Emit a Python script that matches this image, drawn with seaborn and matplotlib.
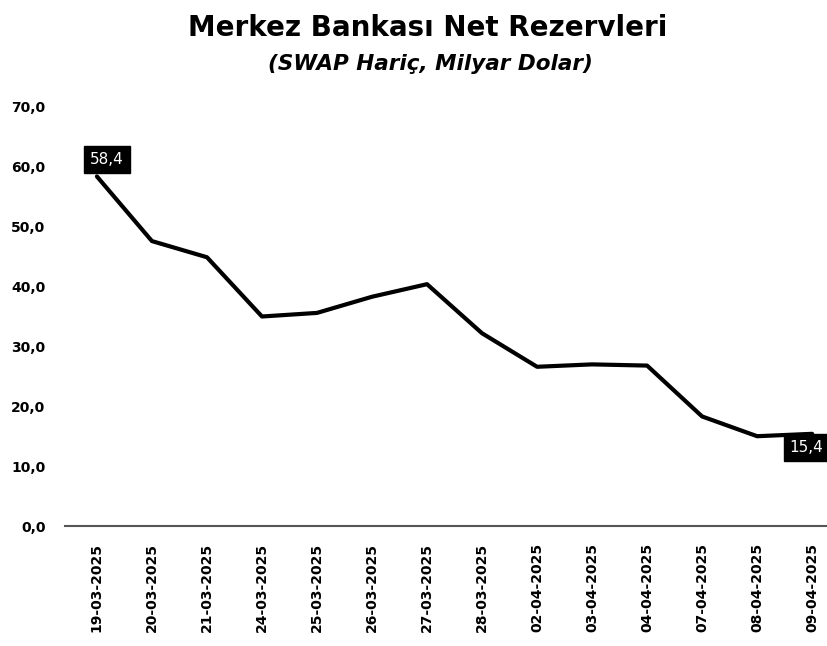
import pandas as pd
import seaborn as sns
import matplotlib.pyplot as plt

# data
dates = ["19-03-2025", "20-03-2025", "21-03-2025", "24-03-2025", "25-03-2025",
         "26-03-2025", "27-03-2025", "28-03-2025", "02-04-2025", "03-04-2025",
         "04-04-2025", "07-04-2025", "08-04-2025", "09-04-2025"]
reserves = [58.4, 47.6, 44.9, 35.0, 35.6, 38.3, 40.4, 32.2, 26.6, 27.0,
            26.8, 18.3, 15.0, 15.4]
yticks = [0, 10, 20, 30, 40, 50, 60, 70]

df = pd.DataFrame({"Tarih": dates, "Rezerv": reserves})
df["pos"] = range(len(df))

sns.set_style("white")
plt.rcParams["font.family"] = ["DejaVu Sans"]
plt.rcParams["text.color"] = "black"
plt.rcParams["xtick.color"] = "black"
plt.rcParams["ytick.color"] = "black"

fig = plt.figure(figsize=(8.27, 6.46), dpi=100)
ax = fig.add_axes([65 / 827, 1 - 526 / 646, 762 / 827, (526 - 107) / 646])

sns.lineplot(x="pos", y="Rezerv", data=df, ax=ax, color="black", linewidth=3.0)

ax.set_xlim(-0.58, 13.27)
ax.set_ylim(0, 70)
ax.set_yticks(yticks)
ax.set_yticklabels([f"{v:.1f}".replace(".", ",") for v in yticks],
                   fontsize=10, fontweight="bold")
ax.set_xticks(df["pos"])
ax.set_xticklabels(df["Tarih"], rotation=90, fontsize=10, fontweight="bold")
ax.tick_params(axis="y", length=0, pad=14)
ax.tick_params(axis="x", length=0, pad=12)
ax.set_xlabel("")
ax.set_ylabel("")

for side in ["top", "right", "left"]:
    ax.spines[side].set_visible(False)
ax.spines["bottom"].set_color("#555555")
ax.spines["bottom"].set_linewidth(1.5)

# data labels on first and last points
box = dict(boxstyle="square,pad=0.4", fc="black", ec="black")
ax.annotate("58,4", (0, reserves[0]), xytext=(7, 12), textcoords="offset points",
            ha="center", va="center", color="white", fontsize=11, bbox=box)
ax.annotate("15,4", (13, reserves[-1]), xytext=(-4, -10), textcoords="offset points",
            ha="center", va="center", color="white", fontsize=11, bbox=box,
            annotation_clip=False)

fig.text(0.517, 1 - 28 / 646, "Merkez Bankası Net Rezervleri", ha="center",
         va="center", fontsize=20, fontweight="bold")
fig.text(0.52, 1 - 64 / 646, "(SWAP Hariç, Milyar Dolar)", ha="center",
         va="center", fontsize=15.5, fontweight="bold", fontstyle="italic")

fig.savefig("out.png", dpi=100)
